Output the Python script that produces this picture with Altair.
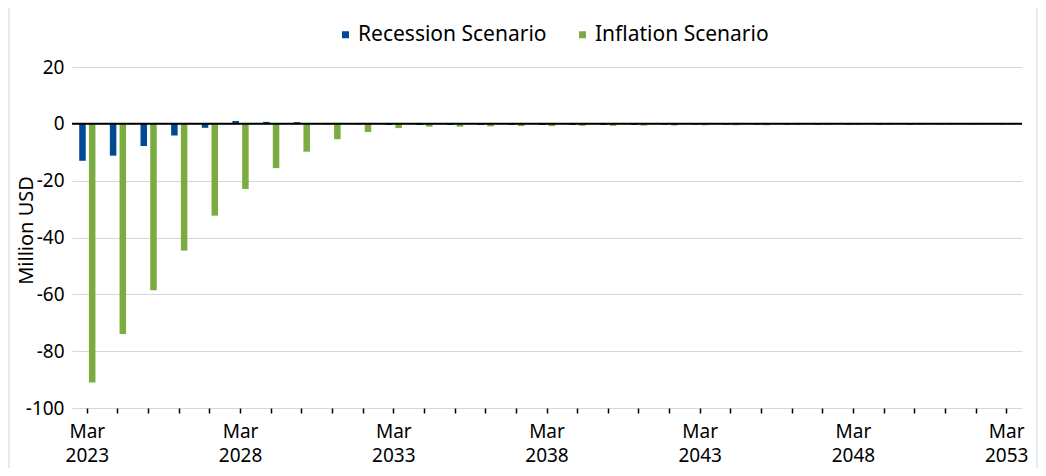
import altair as alt
import pandas as pd

years = list(range(2023, 2054))
recession = [-13.0, -11.2, -7.8, -4.1, -1.4, 1.0, 0.7, 0.6, -0.2, -0.2, -0.4,
             -0.4, -0.4, -0.4, -0.4, -0.4, -0.4, -0.4, -0.4, -0.3, -0.3, -0.3,
             -0.3, -0.3, -0.3, -0.3, -0.3, -0.3, -0.2, -0.2, -0.2]
inflation = [-91.0, -74.0, -58.6, -44.6, -32.3, -22.9, -15.6, -9.8, -5.4, -2.9, -1.5,
             -1.0, -1.0, -0.9, -0.8, -0.8, -0.7, -0.7, -0.6, -0.6, -0.5, -0.5,
             -0.5, -0.4, -0.4, -0.4, -0.3, -0.3, -0.3, -0.3, -0.3]
series = ["Recession Scenario", "Inflation Scenario"]
colors = ["#004a93", "#7bac42"]
y_ticks = [-100, -80, -60, -40, -20, 0, 20]

rows = []
for i, yr in enumerate(years):
    rows.append({"year": yr, "scenario": series[0], "value": recession[i]})
    rows.append({"year": yr, "scenario": series[1], "value": inflation[i]})
df = pd.DataFrame(rows)

FONT = "Noto Sans"
FRAME = "#e6eaee"

one = pd.DataFrame({"a": [0]})
left_strip = alt.Chart(one).mark_rect(color=FRAME).encode(
    x=alt.value(-66), x2=alt.value(-62), y=alt.value(-70), y2=alt.value(420)
)
right_strip = alt.Chart(one).mark_rect(color=FRAME).encode(
    x=alt.value(964), x2=alt.value(980), y=alt.value(-70), y2=alt.value(420)
)

bars = alt.Chart(df).mark_bar().encode(
    x=alt.X("year:O",
            scale=alt.Scale(paddingInner=0.47, paddingOuter=0.235),
            axis=alt.Axis(title=None, labelAngle=0, domain=False, ticks=True,
                          tickColor="black", tickSize=5, tickWidth=1.5,
                          labelExpr="(datum.value - 2023) % 5 == 0 ? ['Mar', '' + datum.value] : ''",
                          labelOverlap=False, labelPadding=9,
                          labelLineHeight=24, grid=False)),
    xOffset=alt.XOffset("scenario:N", sort=series,
                        scale=alt.Scale(domain=series, paddingInner=0.33)),
    y=alt.Y("value:Q",
            scale=alt.Scale(domain=[-100, 20], nice=False, zero=False),
            axis=alt.Axis(values=y_ticks, title="Million USD", grid=True,
                          gridColor="#d6d6d6", gridWidth=1.2, domain=False,
                          labelExpr="'' + datum.value",
                          ticks=False, labelPadding=8, titleX=-36, titleY=163)),
    color=alt.Color("scenario:N",
                    scale=alt.Scale(domain=series, range=colors),
                    legend=alt.Legend(title=None, orient="none", legendX=263,
                                      legendY=-43, direction="horizontal",
                                      symbolType="square", symbolSize=49,
                                      symbolStrokeWidth=0, labelLimit=400,
                                      labelFontSize=21, labelFont=FONT,
                                      columnPadding=25, labelOffset=2)),
)
zero = alt.Chart(one).mark_rule(color="black", strokeWidth=2).encode(
    y=alt.datum(0)
)

chart = alt.layer(left_strip, right_strip, bars, zero).properties(
    width=950, height=341,
    padding={"left": 64, "top": 59, "right": 16, "bottom": 60},
    autosize="none",
    background="white",
).configure_view(stroke=None).configure_axis(
    labelFont=FONT, labelFontSize=19, labelColor="black",
    titleFont=FONT, titleFontSize=20, titleColor="black", titleFontWeight="normal",
)

chart.save("out.html", embed_options={"renderer": "svg", "actions": False})
